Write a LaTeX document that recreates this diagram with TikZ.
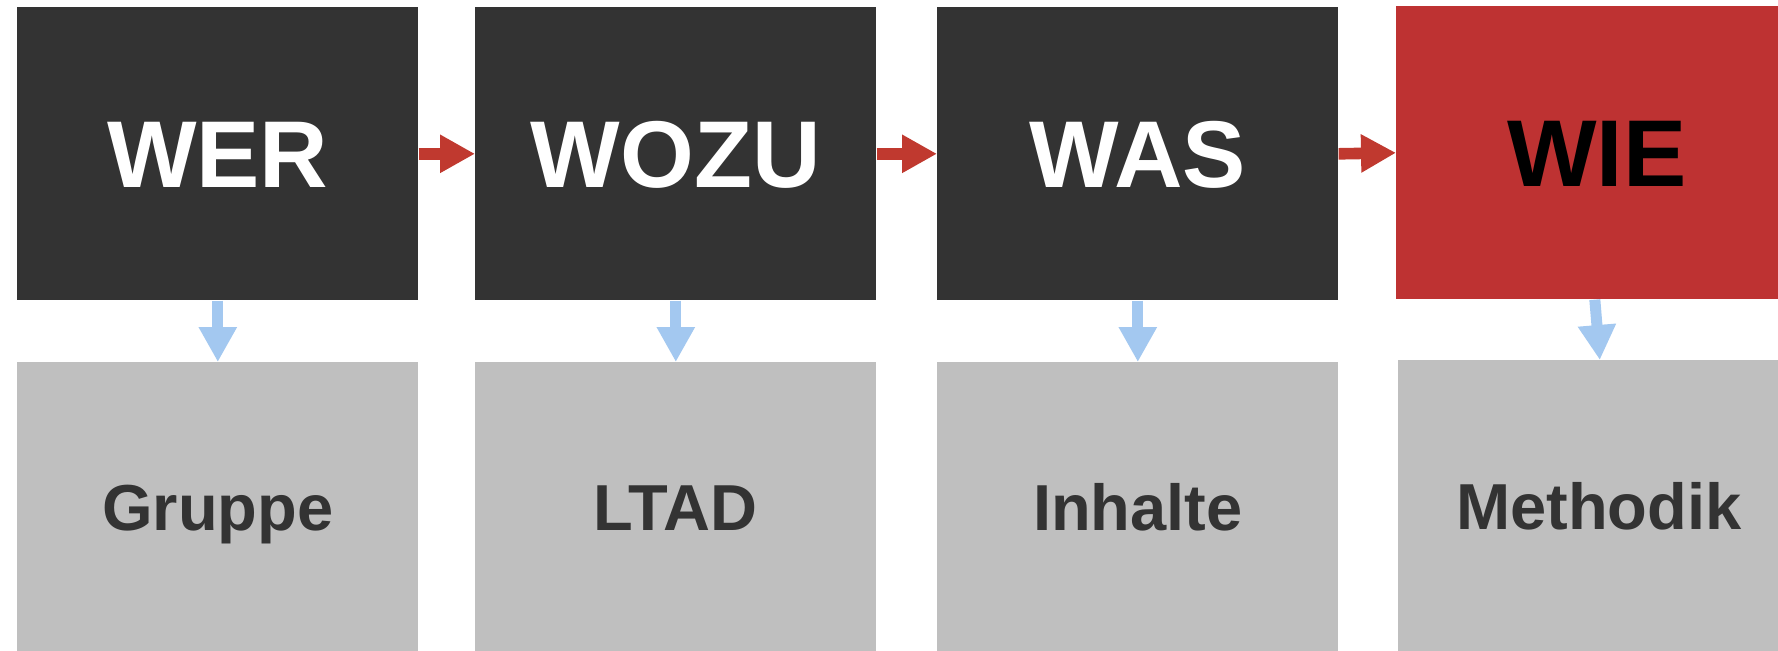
\documentclass[tikz,border=0pt]{standalone}
\usepackage{fontspec}
\setmainfont{Liberation Sans}
\usetikzlibrary{arrows.meta,calc}
\definecolor{boxdark}{HTML}{333333}
\definecolor{boxred}{HTML}{BE3232}
\definecolor{boxgray}{HTML}{BFBFBF}
\definecolor{arrred}{HTML}{C0392F}
\definecolor{arrblue}{HTML}{A3C8F0}
\tikzset{
  top/.style={draw=none, fill=boxdark, anchor=north west, inner sep=0pt,
    minimum width=8.02cm, minimum height=5.86cm,
    font=\fontsize{54}{54}\selectfont\bfseries, text=white,
    text height=1.36cm, text depth=0pt},
  bottom/.style={draw=none, fill=boxgray, anchor=north west, inner sep=0pt,
    minimum width=8.02cm, minimum height=5.8cm,
    font=\fontsize{37}{37}\selectfont\bfseries, text=boxdark,
    text height=0.93cm, text depth=0pt},
  flow/.style={draw=arrred, line width=0.232cm,
    -{Triangle[width=0.72cm, length=0.70cm]}},
  down/.style={draw=arrblue, line width=0.22cm,
    -{Triangle[width=0.72cm, length=0.70cm]}}
}
\begin{document}
\begin{tikzpicture}[x=0.02cm, y=-0.02cm]
  \clip (0,0) rectangle (1778,651);
  \fill[white] (0,0) rectangle (1778,651);
  % question boxes
  \node[top] (wer)  at (17,7)   {WER};
  \node[top] (wozu) at (475,7)  {WOZU};
  \node[top] (was)  at (937,7)  {WAS};
  \node[top, fill=boxred, text=black] (wie) at (1396,6) {WIE};
  % answer boxes
  \node[bottom, minimum height=5.78cm] (gruppe)   at (17,362)   {Gruppe};
  \node[bottom, minimum height=5.78cm] (ltad)     at (475,362)  {LTAD};
  \node[bottom, minimum height=5.78cm] (inhalte)  at (937,362)  {Inhalte};
  \node[bottom, minimum height=5.82cm] (methodik) at (1398,360) {Methodik};
  % flow between the questions
  \draw[flow] (wer.east)  -- (wozu.west);
  \draw[flow] (wozu.east) -- (was.west);
  \draw[flow] (was.east)  -- (wie.west);
  % from each question to its answer
  \draw[down] (wer.south)  -- (gruppe.north);
  \draw[down] (wozu.south) -- (ltad.north);
  \draw[down] (was.south)  -- (inhalte.north);
  \draw[down] ([xshift=-0.04cm]wie.south) -- ([xshift=0.02cm]methodik.north);
\end{tikzpicture}
\end{document}
